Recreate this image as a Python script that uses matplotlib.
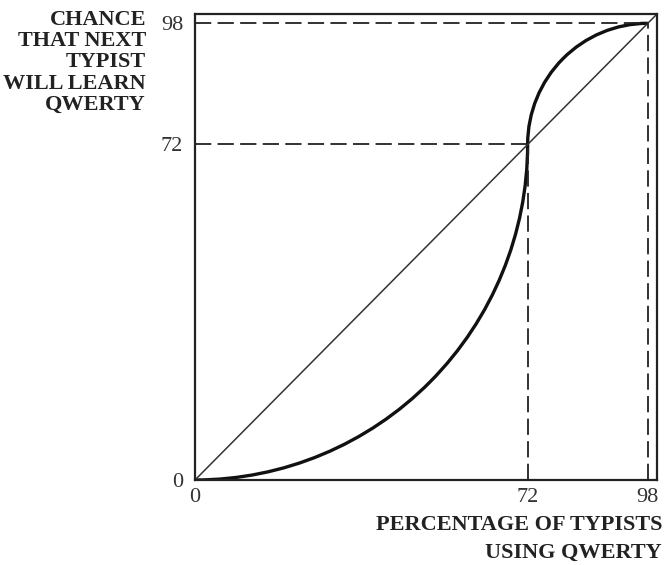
import matplotlib
matplotlib.use("Agg")
import matplotlib.pyplot as plt
from matplotlib.patches import Arc

# Data
equilibria = [0, 72, 98]          # points where the curve meets the diagonal
tick_values = [0, 72, 98]
tick_labels = ["0", "72", "98"]
axis_limits = [0, 100]
ylabel_lines = ["CHANCE", "THAT NEXT", "TYPIST", "WILL LEARN", "QWERTY"]
xlabel_lines = ["PERCENTAGE OF TYPISTS", "USING QWERTY"]

plt.rcParams['font.family'] = ['Liberation Serif', 'DejaVu Serif']

fig = plt.figure(figsize=(6.64, 5.65), dpi=100)
ax = fig.add_axes([195/664, 85/565, 462/664, 466/565])
ax.set_xlim(axis_limits)
ax.set_ylim(axis_limits)

# diagonal
ax.plot(axis_limits, axis_limits, color='#333333', lw=1.1)

# dashed reference lines
dash = (0, (9, 3.5))
lo, mid, hi = equilibria
for v in (mid, hi):
    ax.plot([lo, v], [v, v], color='#222222', lw=1.3, linestyle=dash)
    ax.plot([v, v], [lo, v], color='#222222', lw=1.3, linestyle=dash)

# S-shaped curve built from two quarter arcs through the equilibria
ax.add_patch(Arc((lo, mid), 2*(mid-lo), 2*(mid-lo), theta1=270, theta2=360,
                 color='#111111', lw=2.4))
ax.add_patch(Arc((hi, mid), 2*(hi-mid), 2*(hi-mid), theta1=90, theta2=180,
                 color='#111111', lw=2.4))

for s in ax.spines.values():
    s.set_linewidth(1.6)
    s.set_color('#222222')

ax.set_xticks(tick_values)
ax.set_xticklabels(tick_labels, fontsize=16, color='#333333')
ax.set_yticks(tick_values)
ax.set_yticklabels(tick_labels, fontsize=16, color='#333333')
ax.tick_params(length=0)
ax.tick_params(axis='x', pad=6)
ax.tick_params(axis='y', pad=8.5)

fig.text(146/664, 1 - 10/565, "\n".join(ylabel_lines), ha='right', va='top',
         fontsize=16, fontweight='bold', color='#222222', linespacing=1.08)
fig.text(662/664, 2.5/565, "\n".join(xlabel_lines), ha='right', va='bottom',
         fontsize=16, fontweight='bold', color='#222222', linespacing=1.5)

fig.savefig("out.png", dpi=100)
